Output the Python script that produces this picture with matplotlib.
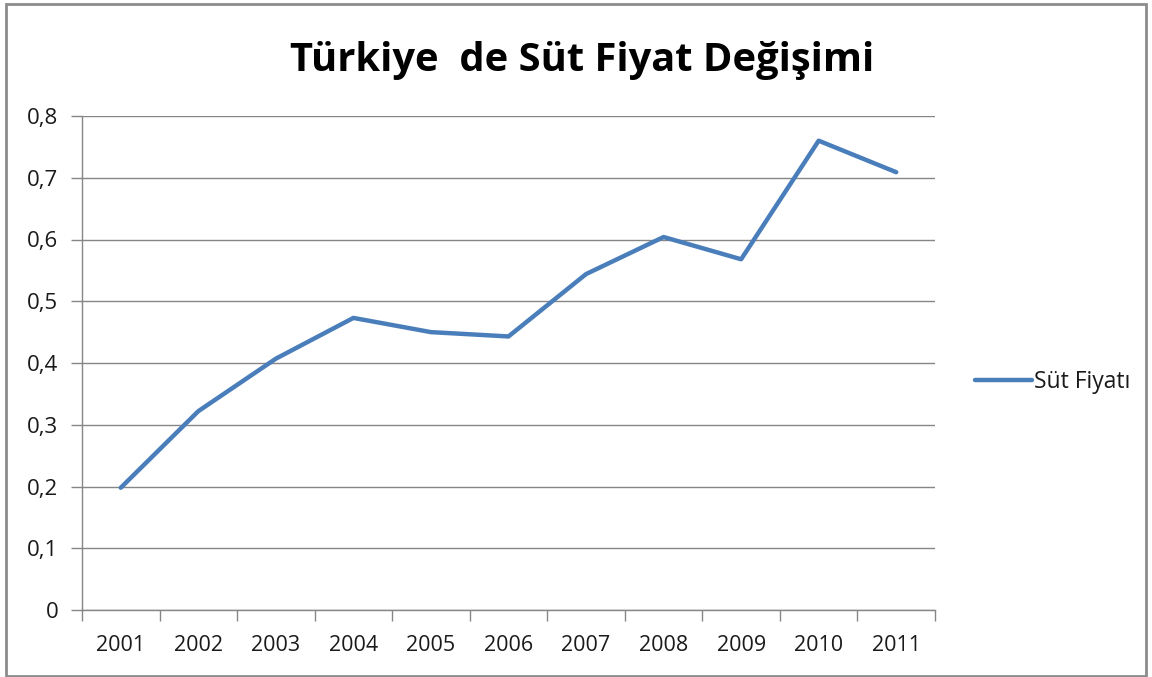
import matplotlib
matplotlib.use("Agg")
import matplotlib.pyplot as plt
from matplotlib.patches import Rectangle

years = ["2001", "2002", "2003", "2004", "2005", "2006", "2007", "2008", "2009", "2010", "2011"]
prices = [0.198, 0.322, 0.407, 0.473, 0.450, 0.443, 0.544, 0.604, 0.568, 0.760, 0.709]
y_ticks = [0, 0.1, 0.2, 0.3, 0.4, 0.5, 0.6, 0.7, 0.8]
y_labels = ["0", "0,1", "0,2", "0,3", "0,4", "0,5", "0,6", "0,7", "0,8"]

plt.rcParams['font.family'] = ['Open Sans', 'DejaVu Sans']
grid_c = '#868686'
line_c = '#4A7EBB'
txt_c = '#1a1a1a'

fig = plt.figure(figsize=(11.52, 6.77), dpi=100)
# chart frame
fig.patches.append(Rectangle((6 / 1152, 1 / 677), 1140 / 1152, 672 / 677,
                             transform=fig.transFigure, fill=False,
                             edgecolor='#8c8c8c', linewidth=2))

ax = fig.add_axes([82 / 1152, 1 - 610 / 677, 853 / 1152, 494 / 677])
xs = [i + 0.5 for i in range(len(years))]
line, = ax.plot(xs, prices, color=line_c, linewidth=3.2, solid_capstyle='round',
                label='Süt Fiyatı')

ax.set_xlim(0, len(years))
ax.set_ylim(0, 0.8)
ax.set_yticks(y_ticks)
ax.set_yticklabels(y_labels)
ax.set_xticks(range(len(years) + 1))
ax.set_xticklabels([])
ax.set_xticks(xs, minor=True)
ax.set_xticklabels(years, minor=True)
ax.tick_params(axis='x', which='minor', length=0, pad=18, labelsize=15.5, labelcolor=txt_c)
ax.tick_params(axis='x', which='major', length=8, color=grid_c, width=1)
ax.tick_params(axis='y', length=8, color=grid_c, width=1, pad=9, labelsize=16,
               labelcolor=txt_c)

ax.yaxis.grid(True, color=grid_c, linewidth=1)
ax.set_axisbelow(True)
for s in ['top', 'right']:
    ax.spines[s].set_visible(False)
for s in ['left', 'bottom']:
    ax.spines[s].set_color(grid_c)
    ax.spines[s].set_linewidth(1)

fig.text(582 / 1152, 1 - 60 / 677, 'Türkiye  de Süt Fiyat Değişimi', ha='center', va='center',
         fontsize=28.7, fontweight='bold', color='black')

fig.legend(handles=[line], loc='center left', bbox_to_anchor=(954 / 1152, 1 - 382 / 677),
           frameon=False, fontsize=16.5, handlelength=2.5, handletextpad=0.1,
           labelcolor=txt_c)

fig.savefig('out.png', dpi=100)
